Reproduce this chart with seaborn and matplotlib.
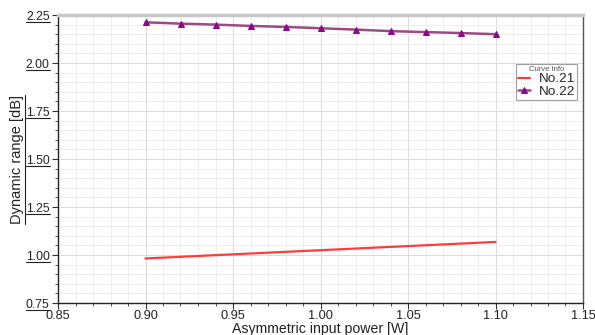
import matplotlib
matplotlib.use("Agg")
import matplotlib.pyplot as plt
from matplotlib.ticker import MultipleLocator, FuncFormatter
from matplotlib.lines import Line2D
import seaborn as sns
import pandas as pd

# Curve No.21 (plain line)
x21 = [0.90, 1.00, 1.10]
y21 = [0.982, 1.025, 1.068]

# Curve No.22 (triangle markers)
x22 = [0.90, 0.92, 0.94, 0.96, 0.98, 1.00, 1.02, 1.04, 1.06, 1.08, 1.10]
y22 = [2.212, 2.205, 2.200, 2.193, 2.188, 2.181, 2.174, 2.166, 2.161, 2.156, 2.150]

xticks = [0.85, 0.90, 0.95, 1.00, 1.05, 1.10, 1.15]
yticks = [0.75, 1.00, 1.25, 1.50, 1.75, 2.00, 2.25]

sns.set_theme(style="white")
plt.rcParams["font.family"] = ["Liberation Sans", "DejaVu Sans"]

W, H = 595, 335
fig = plt.figure(figsize=(W / 100, H / 100), dpi=100)
ax = fig.add_axes([58 / W, 1 - 303 / H, (583 - 58) / W, (303 - 15) / H])

d21 = pd.DataFrame({"x": x21, "y": y21})
d22 = pd.DataFrame({"x": x22, "y": y22})
sns.lineplot(data=d21, x="x", y="y", ax=ax, color="#ff3b3b", lw=1.6, label="No.21")
sns.lineplot(data=d22, x="x", y="y", ax=ax, color="#9c4a84", lw=1.8, marker="^",
             markersize=5, markerfacecolor="#8a0a8a", markeredgecolor="#8a0a8a",
             label="No.22")

ax.set_xlim(xticks[0], xticks[-1])
ax.set_ylim(yticks[0], yticks[-1])
ax.set_xticks(xticks)
ax.set_yticks(yticks)
ax.xaxis.set_minor_locator(MultipleLocator(0.01))
ax.yaxis.set_minor_locator(MultipleLocator(0.05))
fmt = FuncFormatter(lambda v, p: f"{v:.2f}")
ax.xaxis.set_major_formatter(fmt)
ax.yaxis.set_major_formatter(fmt)

ax.grid(which="major", color="#dcdcdc", lw=0.8)
ax.grid(which="minor", color="#ececec", lw=0.6)
ax.set_axisbelow(True)

ax.tick_params(which="both", direction="out", color="#333333",
               labelcolor="#222222", left=True, bottom=True)
ax.tick_params(which="major", length=4, width=0.8)
ax.tick_params(which="minor", length=2.5, width=0.6)
ax.tick_params(axis="x", pad=1, labelsize=9.2)
ax.tick_params(axis="y", pad=2, labelsize=8.8)

for side in ("left", "bottom"):
    ax.spines[side].set_color("#222222")
    ax.spines[side].set_linewidth(1.0)
ax.spines["top"].set_color("#c8c8c8")
ax.spines["top"].set_linewidth(2.5)
ax.spines["right"].set_color("#555555")
ax.spines["right"].set_linewidth(1.0)

ax.set_xlabel("Asymmetric input power [W]", fontsize=10.2, color="#222222", labelpad=0)
ax.set_ylabel("Dynamic range [dB]", fontsize=10.5, color="#222222", labelpad=1)

leg = ax.legend(title="Curve Info", loc="upper left", bbox_to_anchor=(0.873, 0.83),
                fontsize=9.7, title_fontsize=5.5, frameon=True, fancybox=False,
                shadow=False, handlelength=0.9, handletextpad=0.6,
                borderpad=0.15, labelspacing=0.0, borderaxespad=0)
leg.get_frame().set_edgecolor("#888888")
leg.get_frame().set_linewidth(0.8)
leg.get_title().set_color("#555555")

# Underline the y tick labels and the y axis title
fig.canvas.draw()
r = fig.canvas.get_renderer()
for t in ax.get_yticklabels():
    if not t.get_visible() or not t.get_text():
        continue
    bb = t.get_window_extent(r)
    yy = (bb.y0 + 1) / H
    fig.add_artist(Line2D([bb.x0 / W, bb.x1 / W], [yy, yy], color="#222222", lw=0.8))
bb = ax.yaxis.label.get_window_extent(r)
xx = (bb.x1 + 0.5) / W
fig.add_artist(Line2D([xx, xx], [bb.y0 / H, bb.y1 / H], color="#222222", lw=0.8))

fig.savefig("out.png", dpi=100)
